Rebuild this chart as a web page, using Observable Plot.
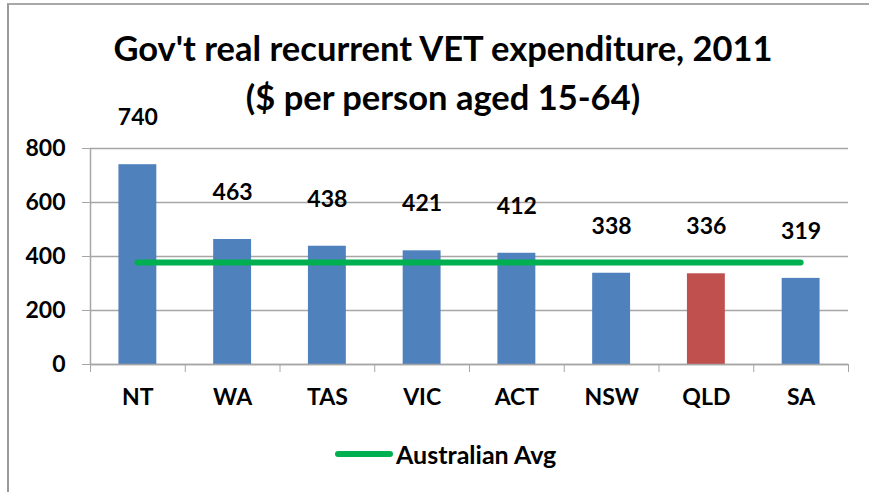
<!DOCTYPE html>
<html>
<head>
<meta charset="utf-8">
<script src="https://cdn.jsdelivr.net/npm/d3@7"></script>
<script src="https://cdn.jsdelivr.net/npm/@observablehq/plot@0.6"></script>
<style>
  html, body { margin: 0; padding: 0; background: #fff; }
  #wrap { position: relative; width: 869px; height: 492px; overflow: hidden; font-family: Lato, "Open Sans", sans-serif; font-weight: bold; color: #000; }
  #frame { position: absolute; left: 7px; top: 3px; right: -10px; bottom: -10px; border-left: 2px solid #9a9a9a; border-top: 2px solid #a8a8a8; }
  #title { position: absolute; left: 0; width: 886px; top: 23px; text-align: center; font-size: 34.5px; line-height: 49px; }
  #chart { position: absolute; left: 0; top: 100px; }
  #legend { position: absolute; left: 335px; top: 438px; height: 32px; display: flex; align-items: center; font-size: 25px; }
  #legend .sw { width: 58px; height: 6px; border-radius: 3px; background: #00B050; margin-right: 3px; }
</style>
</head>
<body>
<div id="wrap">
  <div id="frame"></div>
  <div id="title">Gov't real recurrent VET expenditure, 2011<br>($ per person aged 15-64)</div>
  <div id="chart"></div>
  <div id="legend"><span class="sw"></span><span>Australian Avg</span></div>
</div>
<script>
const states = ["NT", "WA", "TAS", "VIC", "ACT", "NSW", "QLD", "SA"];
const spend = [740, 463, 438, 421, 412, 338, 336, 319];
const australianAvg = 378;
const highlight = "QLD";
const yTicks = [0, 200, 400, 600, 800];

const data = states.map((s, i) => ({state: s, i, value: spend[i]}));
const blue = "#4F81BD", red = "#C0504D", green = "#00B050", grid = "#a6a6a6";

const chart = Plot.plot({
  width: 869,
  height: 320,
  marginLeft: 90,
  marginRight: 21,
  marginTop: 48,
  marginBottom: 56,
  style: {fontFamily: "Lato, 'Open Sans', sans-serif", fontWeight: "bold", fontSize: "23px", color: "#000", background: "transparent"},
  x: {domain: [0, states.length], axis: null},
  y: {domain: [0, 800], axis: null},
  marks: [
    Plot.gridY(yTicks, {stroke: grid, strokeOpacity: 1, strokeWidth: 1.5}),
    Plot.axisY({ticks: yTicks, tickSize: 8, tickPadding: 17, stroke: grid, strokeOpacity: 1, fill: "#000", fontSize: 23, fontWeight: "bold", label: null}),
    Plot.ruleX([0], {stroke: grid, strokeWidth: 1.5}),
    Plot.axisX({ticks: d3.range(0, states.length + 1), tickSize: 8, tickFormat: () => "", stroke: grid, strokeOpacity: 1, label: null}),
    Plot.axisX({ticks: states.map((s, i) => i + 0.5), tickSize: 0, tickPadding: 24, tickFormat: v => states[Math.floor(v)], fill: "#000", fontSize: 23, fontWeight: "bold", label: null}),
    Plot.rectY(data, {x1: d => d.i + 0.3, x2: d => d.i + 0.7, y: "value", fill: d => d.state === highlight ? red : blue}),
    Plot.ruleY([0], {stroke: grid, strokeWidth: 1.5}),
    Plot.ruleY([australianAvg], {x1: 0.5, x2: states.length - 0.5, stroke: green, strokeWidth: 6, strokeLinecap: "round"}),
    Plot.text(data, {x: d => d.i + 0.5, y: "value", text: d => String(d.value), dy: -47, fill: "#000", fontSize: 23, fontWeight: "bold"})
  ]
});
document.getElementById("chart").appendChild(chart);
</script>
</body>
</html>
